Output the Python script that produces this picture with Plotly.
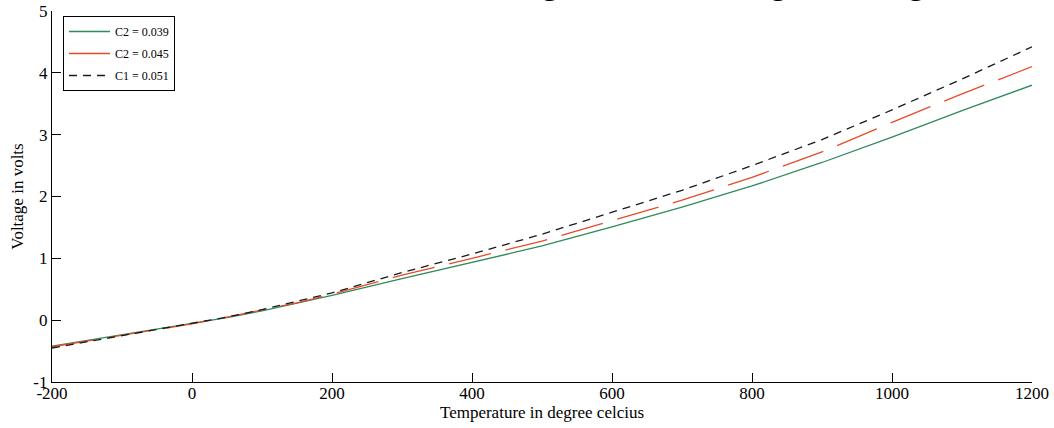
import plotly.graph_objects as go

# Data
temperature = [-200, -150, -100, -50, 0, 50, 100, 150, 200, 300, 400, 500, 600, 700, 800, 900, 1000, 1100, 1200]
volt_c2_039 = [-0.42, -0.33, -0.24, -0.15, -0.06, 0.04, 0.15, 0.27, 0.40, 0.67, 0.94, 1.20, 1.51, 1.83, 2.17, 2.55, 2.96, 3.39, 3.80]
volt_c2_045 = [-0.43, -0.34, -0.25, -0.16, -0.06, 0.05, 0.16, 0.28, 0.42, 0.73, 1.00, 1.28, 1.61, 1.94, 2.31, 2.72, 3.20, 3.66, 4.10]
volt_c1_051 = [-0.45, -0.35, -0.25, -0.16, -0.06, 0.05, 0.17, 0.30, 0.44, 0.77, 1.07, 1.39, 1.75, 2.10, 2.50, 2.92, 3.40, 3.90, 4.42]

x_ticks = [-200, 0, 200, 400, 600, 800, 1000, 1200]
x_tick_text = ["-200", "0", "200", "400", "600", "800", "1000", "1200"]
y_ticks = [-1, 0, 1, 2, 3, 4, 5]
y_tick_text = ["-1", "0", "1", "2", "3", "4", "5"]

FONT = "Liberation Serif, Times New Roman, serif"

fig = go.Figure()
fig.add_trace(go.Scatter(x=temperature, y=volt_c2_039, mode="lines", name="C2 = 0.039",
                         legendgroup="a",
                         line=dict(color="#2f8a5c", width=1.3)))
fig.add_trace(go.Scatter(x=temperature, y=volt_c2_045, mode="lines", name="C2 = 0.045",
                         legendgroup="b",
                         line=dict(color="#e84a28", width=1.3, dash="43px,15px")))
fig.add_trace(go.Scatter(x=temperature, y=volt_c1_051, mode="lines", name="C1 = 0.051",
                         legendgroup="c",
                         line=dict(color="#1a1a1a", width=1.3, dash="8px,6px")))

# Cut-off line of document text above the chart (only descenders visible)
fig.add_annotation(text="The values used and the following are shown in fig. 4 and fig. 5.",
                   xref="paper", yref="paper", x=0.0378, y=1, xanchor="left", yanchor="bottom",
                   yshift=8, showarrow=False, font=dict(family=FONT, size=34, color="#000"))

fig.update_layout(
    width=1054, height=428,
    margin=dict(l=52, r=22, t=11, b=46, autoexpand=False),
    paper_bgcolor="white", plot_bgcolor="white",
    font=dict(family=FONT, size=17, color="#000"),
    showlegend=True,
    legend=dict(x=0.0112, y=0.9865, xanchor="left", yanchor="top",
                bgcolor="white", bordercolor="#000", borderwidth=1,
                font=dict(family=FONT, size=12, color="#000"),
                itemwidth=41,
                traceorder="grouped", tracegroupgap=3),
    xaxis=dict(range=[-200, 1200], tickvals=x_ticks, ticktext=x_tick_text,
               ticks="inside", ticklen=9, tickcolor="#000", tickwidth=1,
               ticklabelstandoff=-5, automargin=False,
               showline=True, linecolor="#000", linewidth=1.3, mirror=False,
               showgrid=False, zeroline=False,
               title=dict(text="Temperature in degree celcius", standoff=2,
                          font=dict(family=FONT, size=17))),
    yaxis=dict(range=[-1, 5], tickvals=y_ticks, ticktext=y_tick_text,
               ticks="inside", ticklen=9, tickcolor="#000", tickwidth=1,
               automargin=False,
               showline=True, linecolor="#000", linewidth=1.3, mirror=False,
               showgrid=False, zeroline=False,
               title=dict(text="Voltage in volts", standoff=5,
                          font=dict(family=FONT, size=17))),
)

fig.write_html("out.html", config={"displayModeBar": False},
               post_script="document.body.style.margin='0px';document.body.style.overflow='hidden';")
